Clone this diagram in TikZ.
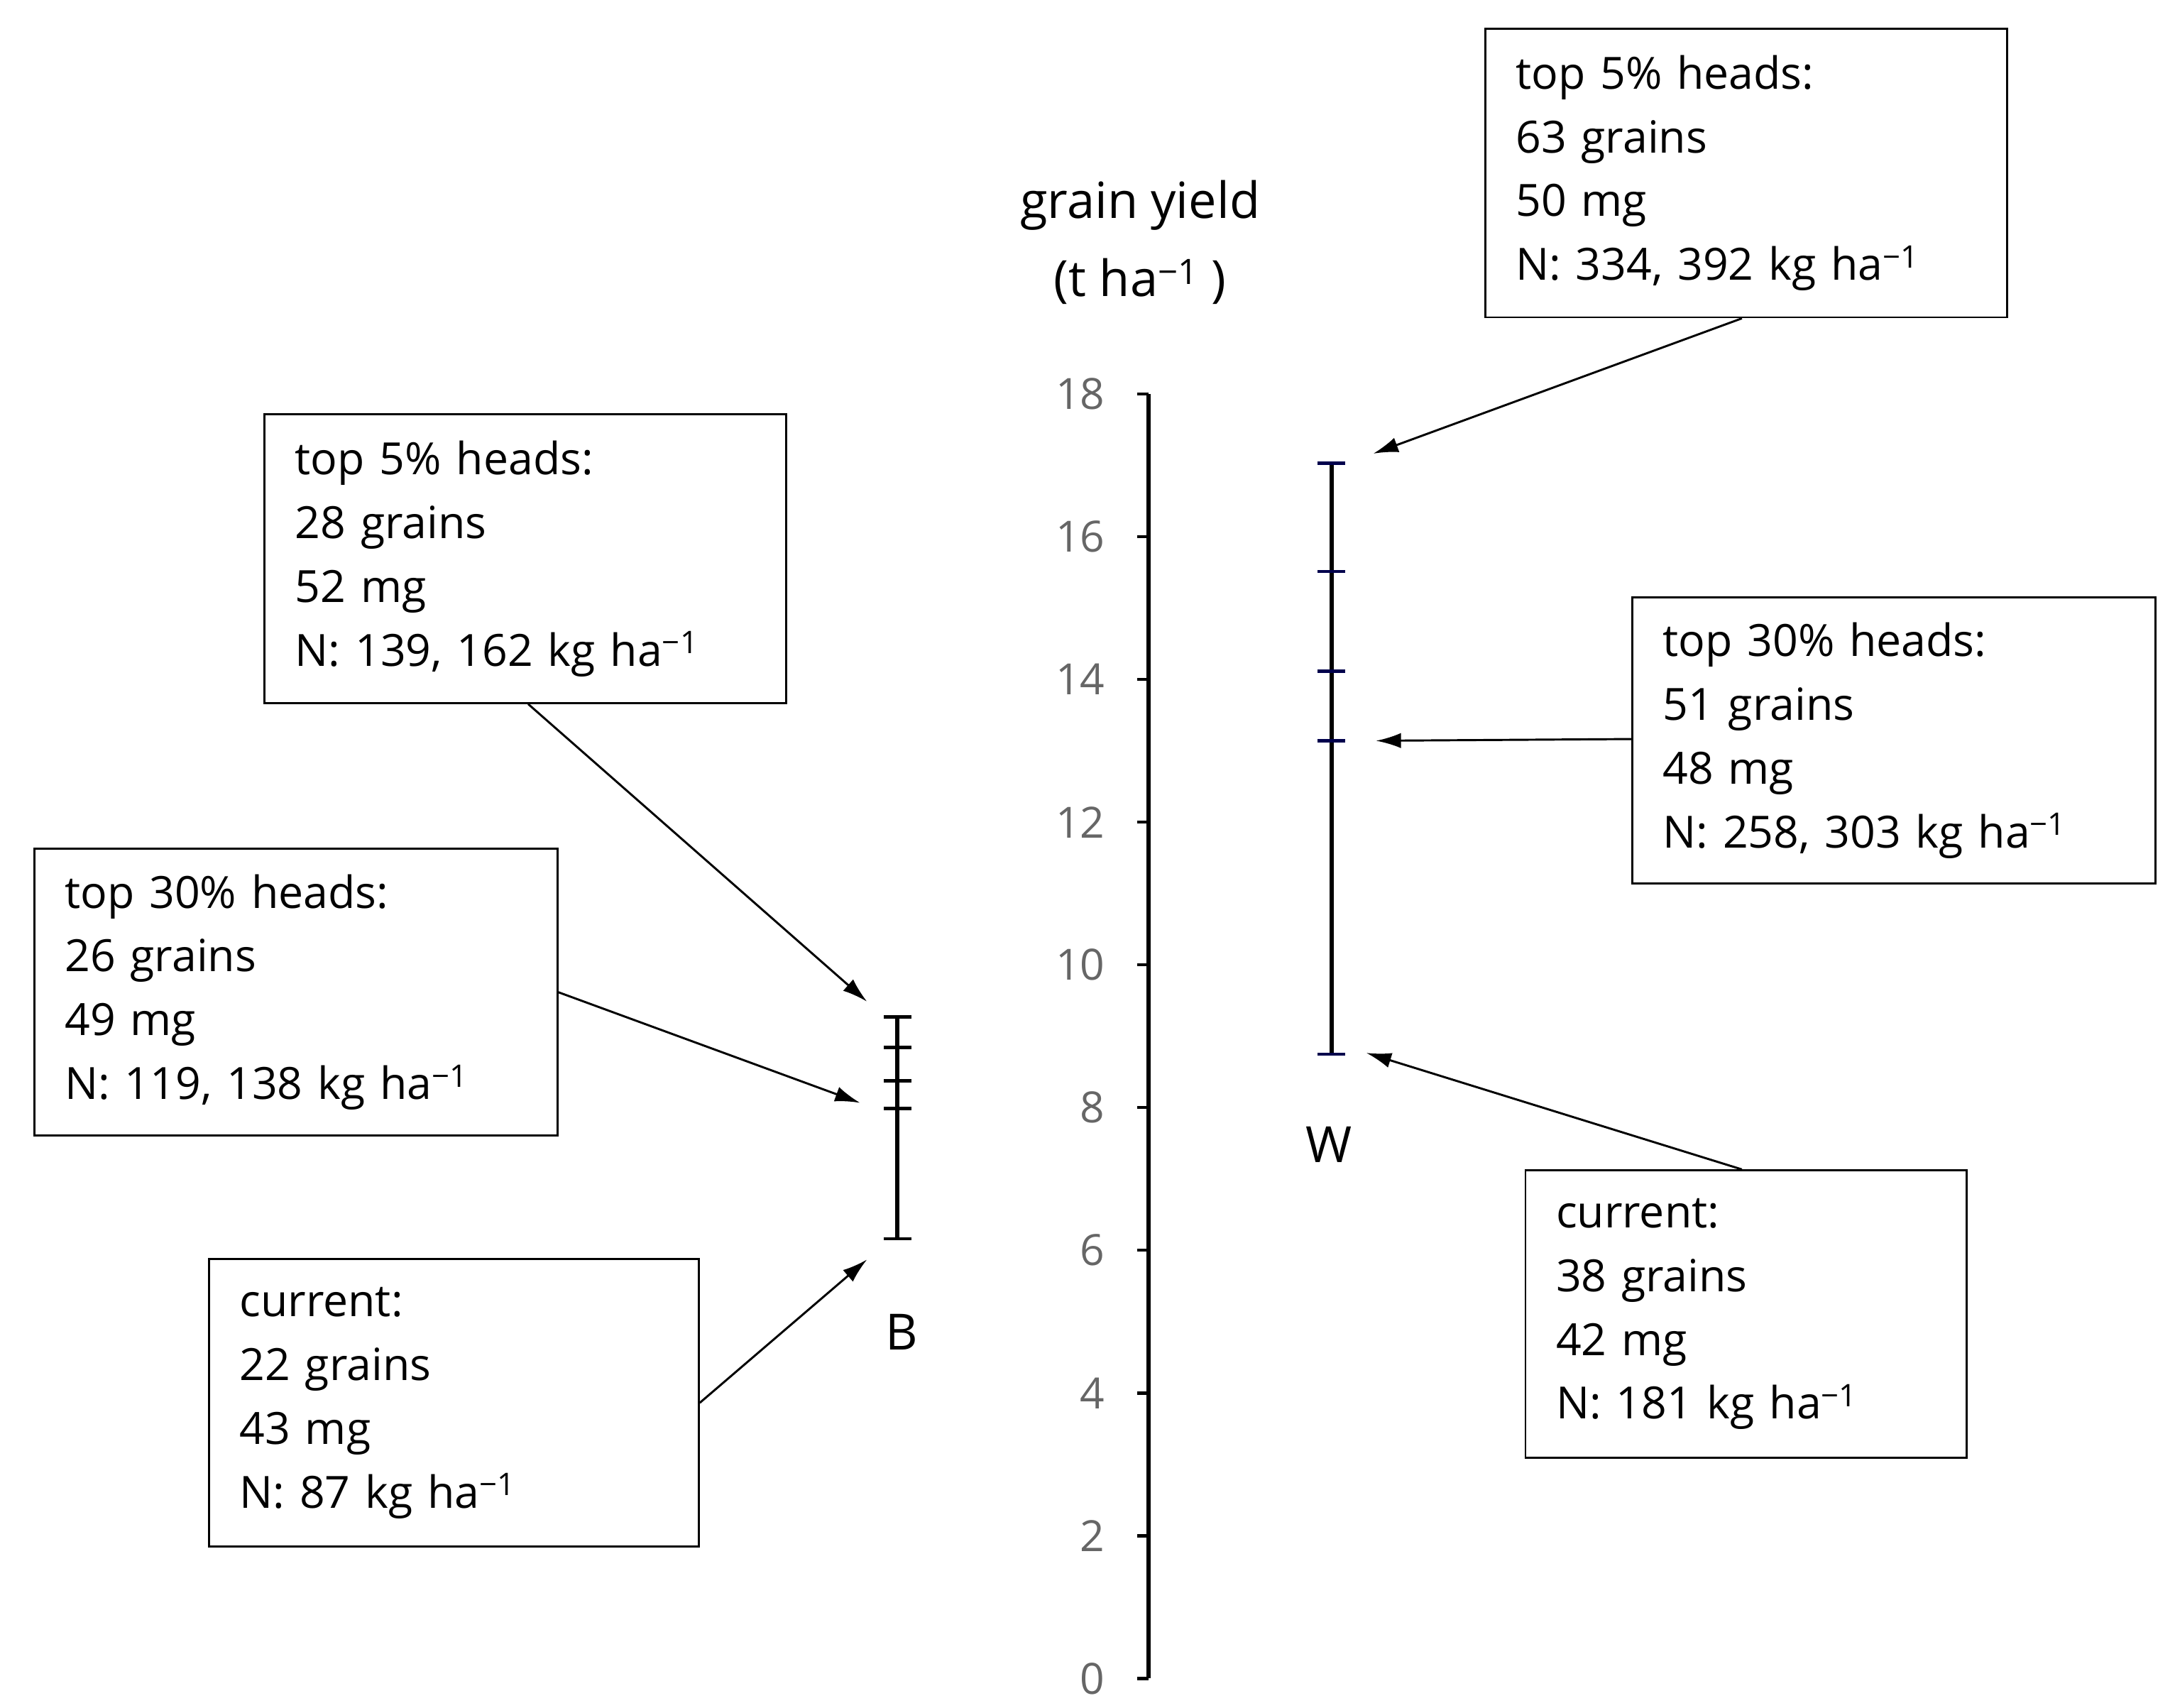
\documentclass[tikz,border=0pt]{standalone}
\usepackage{fontspec}
\setmainfont{Open Sans}
\usetikzlibrary{arrows.meta}
\begin{document}
\begin{tikzpicture}[x=1pt,y=-1pt,
 box/.style={draw,line width=1.5pt,anchor=north west,align=left,inner xsep=22pt,inner ysep=0pt,font=\fontsize{32}{46}\selectfont},
 arr/.style={-{Latex[length=18pt,width=11pt]},line width=1.5pt},
 bar/.style={line width=3.2pt},
 tk/.style={line width=2.4pt},
 lab/.style={font=\fontsize{31}{36}\selectfont,text=gray!80!black}]
\useasboundingbox (0,0) rectangle (1568,1231);
% axis
\draw[line width=2.8pt] (828,284) -- (828,1210);
\foreach \i in {0,...,9}{
 \pgfmathsetmacro\yy{1210-\i*102.89}
 \draw[line width=2.2pt] (820,\yy) -- (828,\yy);
 \pgfmathtruncatemacro\v{2*\i}
 \node[lab,anchor=east] at (800,\yy) {\v};}
\node[font=\fontsize{36}{40}\selectfont] (t1) at (822,148) {grain yield};
\node[font=\fontsize{36}{40}\selectfont] (t2) at (822,203) {(t ha\textsuperscript{−1} )};
% W bar
\draw[bar] (960,334) -- (960,760);
\foreach \y in {334,412,484,534,760} \draw[tk,draw=black!70!blue] (950,\y) -- (970,\y);
\coordinate (w1) at (990,327); \coordinate (w2) at (992,534); \coordinate (w3) at (985,759);
\node[font=\fontsize{36}{40}\selectfont] (W) at (958,825) {W};
% B bar
\draw[bar] (647,733) -- (647,893);
\foreach \y in {733,755,779,799,893} \draw[tk] (637,\y) -- (657,\y);
\coordinate (b1) at (625,722); \coordinate (b2) at (620,795); \coordinate (b3) at (625,908);
\node[font=\fontsize{36}{40}\selectfont] (B) at (650,960) {B};
% boxes
\node[box,minimum width=376pt,minimum height=208pt,text width=332pt] (wa) at (1070,20) {top 5\% heads:\\63 grains\\50 mg\\N: 334, 392 kg ha\textsuperscript{−1}};
\node[box,minimum width=377pt,minimum height=206pt,text width=333pt] (wb) at (1176,430) {top 30\% heads:\\51 grains\\48 mg\\N: 258, 303 kg ha\textsuperscript{−1}};
\node[box,minimum width=318pt,minimum height=207pt,text width=274pt] (wc) at (1099,843) {current:\\38 grains\\42 mg\\N: 181 kg ha\textsuperscript{−1}};
\node[box,minimum width=376pt,minimum height=208pt,text width=332pt] (ba) at (190,298) {top 5\% heads:\\28 grains\\52 mg\\N: 139, 162 kg ha\textsuperscript{−1}};
\node[box,minimum width=377pt,minimum height=207pt,text width=333pt] (bb) at (24,611) {top 30\% heads:\\26 grains\\49 mg\\N: 119, 138 kg ha\textsuperscript{−1}};
\node[box,minimum width=353pt,minimum height=207pt,text width=309pt] (bc) at (150,907) {current:\\22 grains\\43 mg\\N: 87 kg ha\textsuperscript{−1}};
% arrows
\draw[arr] ([xshift=-3pt]wa.south) -- (w1);
\draw[arr] ([yshift=1pt]wb.west) -- (w2);
\draw[arr] ([xshift=-3pt]wc.north) -- (w3);
\draw[arr] ([xshift=2pt]ba.south) -- (b1);
\draw[arr] (bb.east) -- (b2);
\draw[arr] (bc.east) -- (b3);
\end{tikzpicture}
\end{document}
